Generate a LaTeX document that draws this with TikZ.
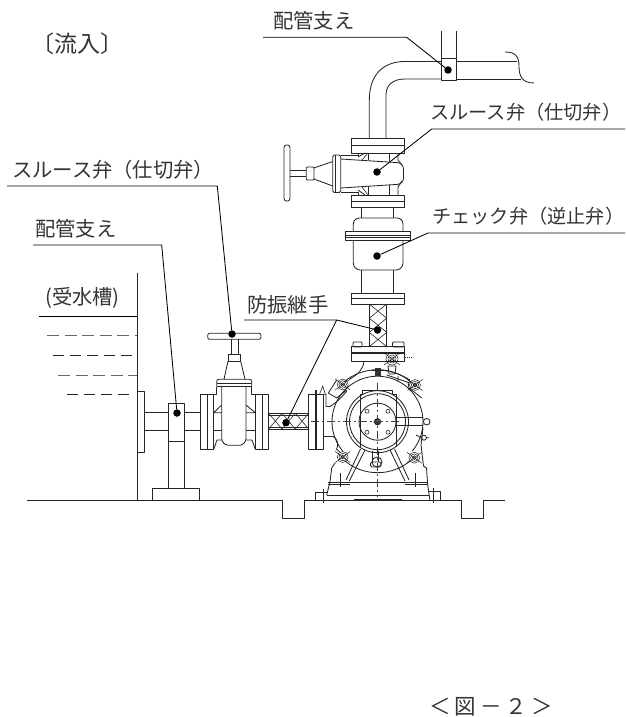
\documentclass[tikz,border=0pt]{standalone}
\usepackage{fontspec}
\setmainfont{Noto Sans CJK JP}
\newfontfamily\halfp[RawFeature=+halt]{Noto Sans CJK JP}
\newcommand{\hnut}[3][5.5]{%
  \draw[thin] (#2,#3) circle[radius=#1] (#2,#3) circle[radius=#1*0.68] (#2,#3) circle[radius=#1*0.36];
  \draw[thin] (#2-#1-2,#3-#1) -- (#2+#1+2,#3+#1) (#2-#1-2,#3+#1) -- (#2+#1+2,#3-#1);
}
\tikzset{
  ln/.style={line width=0.85pt,draw=black!85,line join=round},
  leader/.style={line width=0.85pt,draw=black},
  pt/.style={circle,fill=black,inner sep=0pt,minimum size=7.5pt},
  lab/.style={font=\fontsize{20.3}{22}\selectfont,inner sep=0pt,text=black!80,anchor=west},
  labr/.style={lab,font=\fontsize{19.2}{22}\selectfont},
  cen/.style={line width=0.6pt,draw=black!75,dash pattern=on 8pt off 3pt on 2pt off 3pt},
  fine/.style={line width=0.6pt,draw=black!85},
  dashA/.style={line width=0.9pt,draw=black!85,dash pattern=on 11pt off 6pt},
  dashB/.style={line width=0.9pt,draw=black!60,dash pattern=on 12pt off 5.5pt},
}
\begin{document}
\begin{tikzpicture}[x=1pt,y=-1pt]
\useasboundingbox (0,0) rectangle (625,717);
% ---------- texts
\node[lab,anchor=center,font=\fontsize{23}{25}\selectfont] (tInflow) at (77.5,44) {〔流入〕};
\node[lab] (tSup1) at (273,21) {配管支え};
\node[labr] (tGate1) at (430,112) {スルース弁（仕切弁{\halfp ）}};
\node[labr] (tCheck) at (432,216) {チェック弁（逆止弁{\halfp ）}};
\node[lab] (tGate2) at (12,170) {スルース弁（仕切弁{\halfp ）}};
\node[lab] (tSup2) at (35,229) {配管支え};
\node[lab,anchor=center] (tTank) at (82.5,298) {(受水槽)};
\node[lab] (tJoint) at (247,305) {防振継手};
\node[lab,anchor=center,font=\fontsize{21.5}{23}\selectfont] (tFig) at (491,707) {＜\kern4pt 図\kern4pt －\kern4pt ２\kern4pt ＞};
% ---------- ground and tank
\draw[ln] (27,500.7) -- (282.7,500.7) -- (282.7,518) -- (304,518) -- (304,500.7) -- (461.7,500.7) -- (461.7,518.5) -- (483.3,518.5) -- (483.3,500.7) -- (505,500.7);
\draw[ln] (137,272.7) -- (137,500.7);
\draw[leader] (39.3,316) -- (137,316);
\draw[dashB] (47,335.7) -- (137,335.7);
\draw[dashA] (53,355) -- (135,355);
\draw[dashB] (58,375) -- (137,375);
\draw[dashA] (67,394.7) -- (131,394.7);
% ---------- suction pipe and support
\draw[ln] (137,391) -- (144.3,391) -- (144.3,452) -- (137,452);
\draw[ln] (144.3,412.7) -- (168,412.7) (144.3,430) -- (168,430);
\draw[ln] (184,412.7) -- (200.3,412.7) (184,430) -- (200.3,430);
\draw[ln] (168,403.7) rectangle (184,441);
\draw[ln] (168,441) -- (168,488.3) (184,441) -- (184,488.3);
\draw[ln] (152.7,500.7) -- (152.7,488.3) -- (199.3,488.3) -- (199.3,500.7);
% ---------- horizontal gate valve
\draw[ln,rounded corners=2pt] (207.7,339.3) -- (207.7,333.3) -- (261,333.3) -- (261,339.3) -- cycle;
\draw[ln] (231.7,339.3) -- (231.7,354.7) (238,339.3) -- (238,354.7);
\draw[ln] (228,354.7) rectangle (240.7,361.3);
\draw[ln] (228,361.3) -- (224,379.3) (240.7,361.3) -- (245,379.3);
\draw[ln,rounded corners=2pt] (216.7,386.7) -- (216.7,379.3) -- (251.7,379.3) -- (251.7,386.7);
\draw[ln] (216.7,383) -- (251.7,383) (216.7,386.7) -- (251.7,386.7);
\draw[ln,rounded corners=7pt] (221.7,386.7) -- (221.7,445.3) -- (246,445.3) -- (246,386.7);
\draw[ln] (200.3,394.3) rectangle (213.7,449.3) (207.3,394.3) -- (207.3,449.3);
\draw[ln] (255.3,394.3) rectangle (268.7,449.3) (262.3,394.3) -- (262.3,449.3);
\draw[ln] (213.7,394.3) -- (216.7,394.3) -- (216.7,386.7) (255.3,394.3) -- (251.7,394.3) -- (251.7,386.7);
\draw[ln] (213.7,412.7) -- (221.7,405) (213.7,412.7) -- (221.7,412.7) (255.3,412.7) -- (246,405) (255.3,412.7) -- (246,412.7);
\draw[ln] (213.7,430) -- (221.7,430) (255.3,430) -- (246,430);
\draw[ln] (213.7,449.3) -- (217,440) -- (222,440) (255.3,449.3) -- (252,440) -- (246,440);
% ---------- horizontal flexible joint
\draw[ln] (268.7,413.3) rectangle (308.7,429);
\draw[ln] (268.7,415) -- (308.7,415) (268.7,427.3) -- (308.7,427.3);
\foreach \xa in {268.7,282,295.4}{
  \draw[fine] (\xa,413.3) -- (\xa+13.3,429) (\xa+13.3,413.3) -- (\xa,429);
}
% ---------- vertical pipe, support, elbow
\draw[ln] (441.7,31) -- (441.7,58) (456.7,31) -- (456.7,58);
\draw[ln] (441.7,58) rectangle (456.7,80);
\draw[ln] (369.3,138) -- (369.3,100) .. controls (369.3,76) and (382,61.5) .. (405,61.5) -- (441.7,61.5);
\draw[ln] (386,138) -- (386,95) .. controls (386,85) and (393,79) .. (405,79) -- (441.7,79);
\draw[ln] (456.7,61.5) -- (517,61.5) (456.7,79) -- (521,79);
\draw[ln] (505,52) .. controls (515,52) and (519,56) .. (519,66) .. controls (519,76) and (522,83) .. (534,83);
% ---------- upper gate valve
\draw[ln] (351.7,138) rectangle (404,153) (351.7,145) -- (404,145);
\draw[ln] (351.7,195) rectangle (404,207) (351.7,201) -- (404,201);
\draw[ln] (368,153) -- (368,160) (368,186) -- (368,195) (389,153) -- (389,161) (389,185) -- (389,195);
\draw[ln] (398,153) -- (398,160) -- (402,165) (398,195) -- (398,187) -- (402,181);
\draw[ln] (358,153) -- (358,155) -- (340.7,155) (358,195) -- (358,192.5) -- (340.7,192.5);
\draw[ln] (358,157) -- (365,153) (358,190) -- (365,195);
\draw[fine] (362,160) -- (368,153) (362,187) -- (368,195);
\draw[ln,rounded corners=6pt] (340.7,159) -- (403.5,163) -- (403.5,184) -- (340.7,188);
\draw[ln,rounded corners=1.5pt] (332.7,155) rectangle (340.7,192.5);
\draw[ln] (335,155) -- (335,192.5);
\draw[ln] (314,168) -- (332.7,161.5) (314,179) -- (332.7,186);
\draw[ln,rounded corners=1pt] (306.3,167) rectangle (314,180);
\draw[ln] (290,170.5) -- (306.3,170.5) (290,176.5) -- (306.3,176.5);
\draw[ln,rounded corners=2.5pt] (284,145) rectangle (290,201);
% ---------- check valve
\draw[ln] (361.7,207) -- (361.7,218) (393.3,207) -- (393.3,218);
\draw[ln,rounded corners=6pt] (353.3,231) -- (353.3,218) -- (403,218) -- (403,231);
\draw[ln] (345,231) rectangle (410.7,240.7);
\draw[ln] (345,235) -- (410.7,235) (345,237) -- (410.7,237);
\draw[ln,rounded corners=7pt] (353.3,240.7) -- (353.3,270) -- (403,270) -- (403,240.7);
\draw[ln] (361.7,270) -- (361.7,293) (393.3,270) -- (393.3,293);
\draw[ln] (351.7,293) rectangle (404,304) (351.7,298.5) -- (404,298.5);
% ---------- vertical flexible joint
\draw[ln] (369.3,304) rectangle (386.7,346.7);
\foreach \ya in {304,318.2,332.4}{
  \draw[fine] (369.3,\ya) -- (386.7,\ya+14.2) (386.7,\ya) -- (369.3,\ya+14.2);
}
% ---------- pump: discharge flange
\draw[ln] (351.5,346.7) rectangle (404,361);
\draw[line width=1.6pt,draw=black!85] (351.5,353) -- (404,353);
\draw[ln,rounded corners=1pt] (353,342) rectangle (362,347) (392.5,342) rectangle (404,347);
\draw[ln] (364,361) .. controls (363,370) and (358,374) .. (350,379);
\hnut[6]{392}{359}
\draw[ln] (388,366) -- (396,366) -- (395,374) -- (389,374) -- cycle;
\draw[line width=1.5pt,draw=black!85,dash pattern=on 1.2pt off 0.8pt] (405,357.5) -- (413,357.5);
% ---------- pump: casing
\coordinate (C) at (377.5,421.7);
% upper part of the casing (angles run clockwise on the page here)
\draw[ln] (C) ++(140:45.5) arc[start angle=140,end angle=400,radius=45.5];
\draw[ln] (C) ++(230:52) arc[start angle=230,end angle=310,radius=52];
\draw[ln] (C) ++(50:51) arc[start angle=50,end angle=130,radius=51];
\draw[ln] (C) circle[radius=31] (C) circle[radius=28] (C) circle[radius=18.5];
\draw[line width=1.2pt,draw=black!85] (C) circle[radius=3] (C) circle[radius=1.5];
\foreach \dx/\dy in {-10.5/-10.5,10.5/-10.5,-10.5/10.5,10.5/10.5}{
  \draw[fine] (377.5+\dx,421.7+\dy) circle[radius=2];
}
\draw[ln] (360,446.5) -- (360,394) -- (362.7,394) -- (362.7,390) -- (392.3,390) -- (392.3,394) -- (396,394) -- (396,446.5);
\draw[cen] (377.5,383) -- (377.5,497);
\draw[cen] (311,421.7) -- (402,421.7);
% top stub
\fill[black!80] (374.5,368) rectangle (380.5,376);
\draw[ln] (371,370) -- (384,370);
% ribs
\draw[ln] (386.7,375) -- (410,383) (398,376) -- (398,381.5);
\draw[ln] (380,370) .. controls (392,371) and (402,375) .. (410,380);
\draw[ln] (409,388) -- (421.7,398) (409,388) -- (408,382);
\hnut{415}{385}
\hnut{342.7}{384.5}
\hnut{342.7}{457}
\hnut{414.3}{457.7}
\draw[ln] (328.3,393) -- (336.7,380) (328.3,393) -- (336.7,398) -- (346.7,390);
\draw[ln] (326,436.5) -- (333,436.5) .. controls (337,438) and (339,444) .. (336.7,449);
% inlet flange
\draw[ln] (308.7,394.3) rectangle (323,449);
\draw[line width=1.7pt,draw=black!85] (316,390) -- (316,449);
\draw[ln] (323,394.3) -- (326,394.3) -- (326,406.5) -- (330,406.5) .. controls (336,403) and (343,396) .. (346.7,391);
\draw[ln] (323,436.5) -- (326,436.5);
\draw[fine] (319.5,394.3) -- (322.7,386) -- (325.5,394.3);
% legs
\draw[ln] (365,450) -- (349.3,481) (360.5,449) -- (346,480);
\draw[ln] (390,450) -- (405,481) (394.5,449) -- (409,480);
% lug on the bottom
\draw[ln,rounded corners=1.5pt] (370.5,462) rectangle (381,467);
\draw[ln] (372,451) -- (372,462) (378,451) -- (378,462);
\draw[ln] (377,462) circle[radius=5];
% right side
\draw[ln] (396,417) -- (423,417) (396,425) -- (423,425) (396,417) -- (396,425);
\draw[ln] (426.7,421.7) circle[radius=3.3];
\draw[ln] (423,428) -- (421,445) -- (423.5,466) -- (426.5,468) -- (427.7,485) -- (430,500.7);
\draw[ln] (424,437.7) circle[radius=2.5] (416,435) -- (421,437.7) (426,437.7) -- (429,437.7);
% left side
\draw[ln] (335,463) -- (331.7,468) -- (330,482) -- (326.7,495);
\draw[ln] (336,449) -- (340,452);
% base
\draw[ln] (328,482) -- (350,482) (328,484.5) -- (350,484.5);
\draw[ln] (405,482) -- (427,482) (405,484.5) -- (427,484.5);
\draw[ln] (350,482) -- (405,482) ;
\draw[ln] (340,473) -- (340,487) (415.7,473) -- (415.7,487);
\draw[ln] (326.7,495) -- (428.5,495);
\draw[line width=1.5pt,draw=black!85] (354,500) -- (402,500);
\draw[ln] (315,500.7) -- (315,492.7) -- (326.7,492.7) (323.3,489) -- (323.3,503);
\draw[ln] (428,491.7) -- (440,491.7) -- (440,500.7) (433.3,488) -- (433.3,503);
% ---------- leaders
\node[pt] (dSupTop) at (448,70) {};
\node[pt] (dGateTop) at (377,172) {};
\node[pt] (dCheck) at (377,256) {};
\node[pt] (dJointV) at (377.5,330) {};
\node[pt] (dJointH) at (286,422.7) {};
\node[pt] (dGateL) at (232,334) {};
\node[pt] (dSupL) at (177,413) {};
\coordinate (e1) at (406.7,37.3); \coordinate (e1a) at (263,37.3);
\coordinate (e2) at (431.7,129); \coordinate (e2a) at (625,129);
\coordinate (e3) at (428,233); \coordinate (e3a) at (625,233);
\coordinate (e4) at (336.7,320); \coordinate (e4a) at (244,320);
\coordinate (e5) at (217.3,186); \coordinate (e5a) at (7,186);
\coordinate (e6) at (161.7,245); \coordinate (e6a) at (33,245);
\draw[leader] (dSupTop) -- (e1) -- (e1a);
\draw[leader] (dGateTop) -- (e2) -- (e2a);
\draw[leader] (dCheck) -- (e3) -- (e3a);
\draw[leader] (dJointV) -- (e4) -- (e4a);
\draw[leader] (dJointH) -- (e4);
\draw[leader] (dGateL) -- (e5) -- (e5a);
\draw[leader] (dSupL) -- (e6) -- (e6a);
\end{tikzpicture}
\end{document}
